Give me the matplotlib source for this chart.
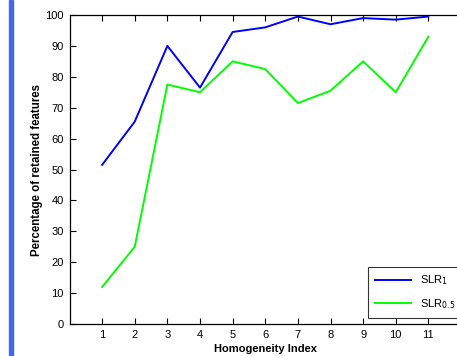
import matplotlib
matplotlib.use("Agg")
import matplotlib.pyplot as plt
from matplotlib.patches import Rectangle

#%% --- Data ---

homogeneity_index = [1, 2, 3, 4, 5, 6, 7, 8, 9, 10, 11]
slr_1 = [51.5, 65.5, 90.0, 76.5, 94.5, 96.0, 99.5, 97.0, 99.0, 98.5, 99.5]
slr_05 = [12.0, 25.0, 77.5, 75.0, 85.0, 82.5, 71.5, 75.5, 85.0, 75.0, 93.0]

plt.rcParams["font.family"] = ["Liberation Sans", "DejaVu Sans"]

#%% --- Figure ---

W, H = 457, 356
fig = plt.figure(figsize=(W / 100, H / 100), dpi=100)

# blue bar on the left edge
fig.patches.append(Rectangle((9 / W, 0), 3.5 / W, 1, transform=fig.transFigure,
                             color="#4466ee", zorder=0))

# axes runs past the right edge (cropped original)
left, right, top, bottom = 69.5, 461, 15, 324
ax = fig.add_axes([left / W, 1 - bottom / H, (right - left) / W, (bottom - top) / H])

ax.plot(homogeneity_index, slr_1, color="#0000ff", lw=1.4, label="SLR$_1$")
ax.plot(homogeneity_index, slr_05, color="#00ff00", lw=1.4, label="SLR$_{0.5}$")

ax.set_xlim(0, 12)
ax.set_ylim(0, 100)
ax.set_xticks(homogeneity_index)
ax.set_yticks(range(0, 101, 10))
ax.tick_params(direction="in", top=True, right=False, labelsize=8, length=4,
               width=0.8, pad=4)
for s in ax.spines.values():
    s.set_linewidth(0.9)

ax.set_xlabel("Homogeneity Index", fontsize=8, fontweight="bold", labelpad=3)
ax.set_ylabel("Percentage of retained features", fontsize=8.3, fontweight="bold",
              labelpad=2)

leg = ax.legend(loc="lower right", bbox_to_anchor=((368 - left) / (right - left), 0.02),
                fontsize=8, frameon=True, fancybox=False, edgecolor="black",
                handlelength=3.3, borderaxespad=0, labelspacing=0.9,
                borderpad=0.6)
leg._loc = 3
leg.get_frame().set_linewidth(0.8)

fig.savefig("out.png", dpi=100)
